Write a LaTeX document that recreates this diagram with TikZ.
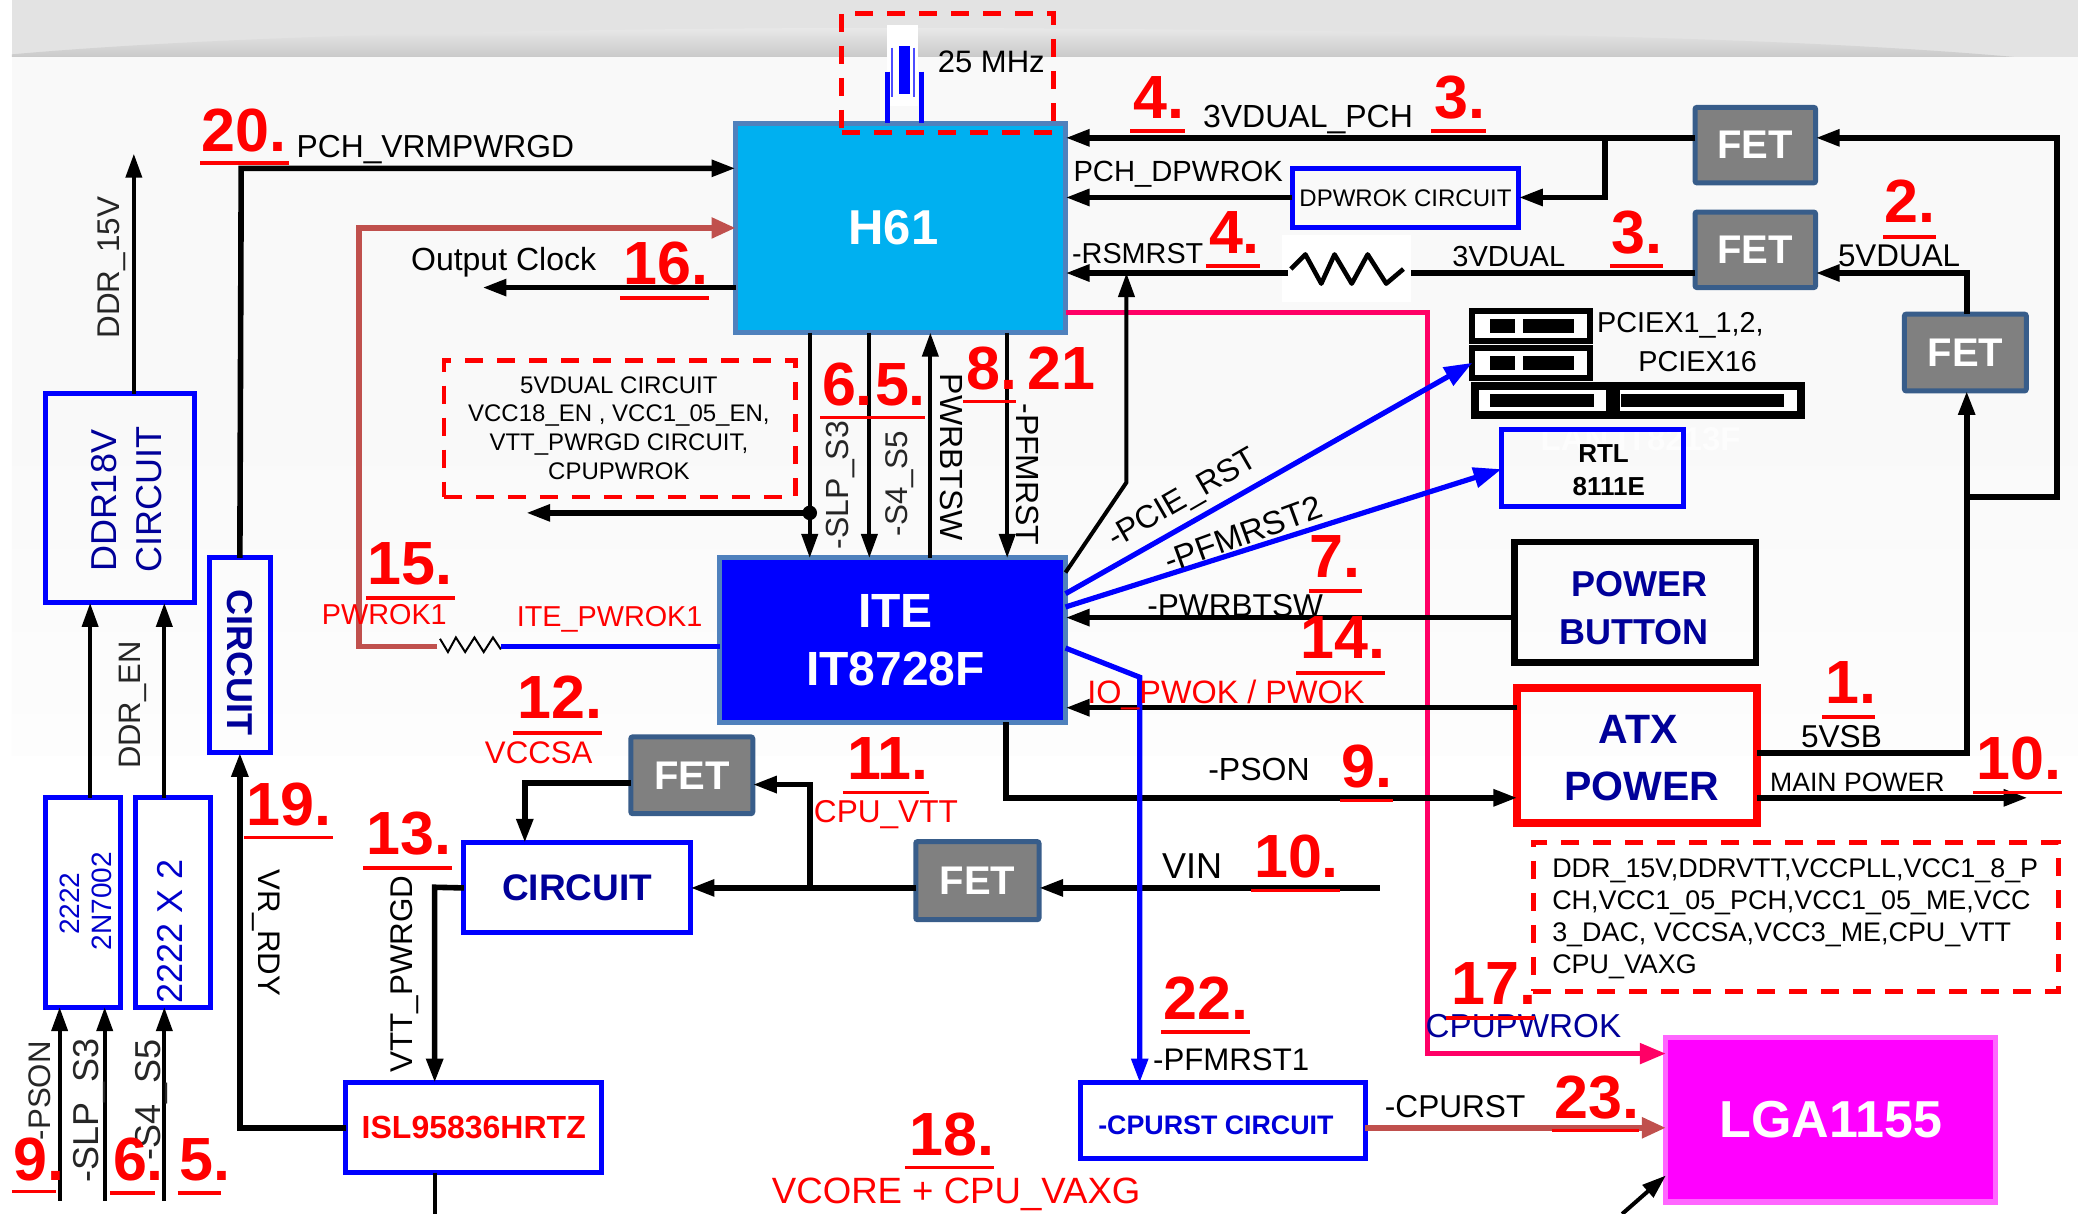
\documentclass[tikz,border=0pt]{standalone}
\usepackage{fontspec}
\setmainfont{Liberation Sans}
\usetikzlibrary{arrows.meta}
\def\un{0.66263}
\definecolor{h61blue}{HTML}{00B0F0}
\definecolor{edgeblue}{HTML}{4F81BD}
\definecolor{fetedge}{HTML}{385D8A}
\definecolor{navyt}{HTML}{000099}
\definecolor{brownr}{HTML}{C0504D}
\definecolor{pinkr}{HTML}{FF0066}
\definecolor{lgafill}{HTML}{FF00FF}
\definecolor{lgaedge}{HTML}{FF66FF}
\definecolor{bga}{HTML}{F9F9F9}
\definecolor{bgb}{HTML}{FDFDFD}
\definecolor{ghost}{HTML}{FDFDFD}
\tikzset{
  fs/.style={font=\fontsize{#1}{#1}\selectfont},
  lab/.style={inner sep=0pt,anchor=base,text=black},
  rlab/.style={lab,text=red},
  glab/.style={lab,text=black!85},
  rnum/.style={inner sep=0pt,anchor=base west,text=red,font=\fontsize{30.5}{32}\selectfont\bfseries},
  runder/.style={draw=red,line width=1.9pt},
  bx/.style={inner sep=0pt,outer sep=0pt,align=center},
  blueb/.style={bx,draw=blue,line width=2.5pt},
  fetb/.style={bx,draw=fetedge,fill=gray,line width=2.5pt,rounded corners=1pt,text=white,font=\fontsize{20}{24}\selectfont\bfseries},
  dashb/.style={draw=red,line width=2.4pt,dash pattern=on 9pt off 7pt},
  tip/.style={-{Triangle[length=12pt,width=8pt]}},
  wire/.style={draw=black,line width=2pt},
  wthick/.style={draw=black,line width=2.8pt},
  slotb/.style={bx,draw=black,fill=white,line width=3pt},
  slotbig/.style={bx,draw=black,fill=white,line width=4pt},
  barb/.style={bx,fill=black},
}
% name x1 y1 x2 y2 style text
\newcommand\BX[7]{\node[#6,minimum width={(#4-(#2))*\un*1pt},minimum height={(#5-(#3))*\un*1pt}] (#1) at ({(#2+#4)/2},{(#3+#5)/2}) {#7};}
% name x y text ux1 ux2 uy
\newcommand\RN[7]{\node[rnum] (#1) at (#2,#3) {#4}; \draw[runder] (#5,#7) -- (#6,#7);}
\begin{document}
\begin{tikzpicture}[x=\un pt,y=-\un pt,line join=miter]
\useasboundingbox (0,0) rectangle (1568,916);
% background
\fill[white] (0,0) rectangle (1568,916);
\fill[bga] (9,43) rectangle (1568,320);
\shade[top color=bga,bottom color=bgb] (9,320) rectangle (1568,570);
\fill[black!11] (9,0) rectangle (1568,43);
\shade[top color=black!9,bottom color=black!21] (9,43) -- (9,41) .. controls (200,24) and (500,21) .. (700,21) .. controls (1100,23) and (1350,28) .. (1520,43) -- cycle;
\node[inner sep=0pt,text=ghost,font=\fontsize{16.5}{20}\selectfont\bfseries] (langhost) at (1238,331) {LAN  IT8213F};

% main boxes
\BX{h61}{555}{93}{804}{251}{bx,draw=edgeblue,fill=h61blue,line width=2.5pt,text=white,font=\fontsize{24.5}{28}\selectfont\bfseries}{H61\hspace{7pt}}
\BX{ite}{543}{421}{804}{545}{bx,draw=edgeblue,fill=blue,line width=2.5pt,text=white,font=\fontsize{24}{29}\selectfont\bfseries}{\hspace{3pt}ITE\\[0pt]\hspace{3pt}IT8728F}
\BX{ddrc}{34}{297}{147}{455}{blueb}{}
\BX{vrc}{158}{421}{204}{568}{blueb}{}
\BX{q1}{34}{602}{91}{760}{blueb}{}
\BX{q2}{102}{602}{159}{760}{blueb}{}
\BX{fet1}{1279}{81}{1370}{138}{fetb}{FET}
\BX{fet2}{1279}{160}{1370}{217}{fetb}{FET}
\BX{fet3}{1437}{237}{1529}{295}{fetb}{FET}
\BX{fet4}{476}{556}{568}{614}{fetb}{FET}
\BX{fet5}{691}{635}{784}{694}{fetb}{FET}
\BX{circ}{350}{636}{521}{704}{blueb,text=navyt,font=\fontsize{18.5}{22}\selectfont\bfseries}{CIRCUIT}
\BX{isl}{261}{817}{454}{885}{blueb,text=red,font=\fontsize{16}{20}\selectfont\bfseries}{ISL95836HRTZ}
\BX{dpw}{975}{127}{1146}{172}{blueb,font=\fontsize{12}{15}\selectfont}{DPWROK CIRCUIT}
\BX{rtl}{1133}{324}{1270}{382}{blueb}{}
\BX{pwrb}{1143}{409}{1325}{500}{bx,draw=black,line width=3.3pt}{}
\BX{atx}{1145}{519}{1326}{621}{bx,draw=red,line width=4pt}{}
\BX{cpur}{815}{817}{1030}{874}{blueb}{}
\BX{lga}{1257}{783}{1506}{907}{bx,draw=lgaedge,fill=lgafill,line width=2.6pt,text=white,font=\fontsize{26}{30}\selectfont\bfseries}{LGA1155}

% texts of the boxes
\node[lab,rotate=90,text=navyt,fs=18] (tddr1) at (88,378) {DDR18V};
\node[lab,rotate=90,text=navyt,fs=18] (tddr2) at (122,377) {CIRCUIT};
\node[lab,rotate=-90,text=navyt,font=\fontsize{18}{20}\selectfont\bfseries] (tvrc) at (172,500) {CIRCUIT};
\node[lab,rotate=90,text=blue!80!black,fs=14] (tq1a) at (60,682) {2222};
\node[lab,rotate=90,text=blue!80!black,fs=14] (tq1b) at (84,680) {2N7002};
\node[lab,rotate=90,text=blue!80!black,fs=18] (tq2) at (138,703) {2222 X 2};
\node[lab,font=\fontsize{13}{15}\selectfont\bfseries] (trtla) at (1210,349) {RTL};
\node[lab,font=\fontsize{13}{15}\selectfont\bfseries] (trtlb) at (1214,374) {8111E};
\node[lab,text=navyt,font=\fontsize{18}{20}\selectfont\bfseries] (tpb1) at (1237,450) {POWER};
\node[lab,text=navyt,font=\fontsize{18}{20}\selectfont\bfseries] (tpb2) at (1233,486) {BUTTON};
\node[lab,text=navyt,font=\fontsize{20.5}{22}\selectfont\bfseries] (tatx1) at (1236,561) {ATX};
\node[lab,text=navyt,font=\fontsize{20.5}{22}\selectfont\bfseries] (tatx2) at (1239,604) {POWER};
\node[lab,text=blue!85!black,font=\fontsize{13.4}{16}\selectfont\bfseries] (tcpur) at (917.5,856) {-CPURST CIRCUIT};

% PCI slots
\BX{slot1}{1111}{234.5}{1200}{257}{slotb}{}
\BX{slot2}{1111}{262.5}{1200}{285}{slotb}{}
\BX{slot3}{1113}{291}{1215}{313}{slotbig}{}
\BX{slot4}{1219}{291}{1359}{313}{slotbig}{}
\BX{bar1a}{1124}{241}{1143}{251}{barb}{}
\BX{bar1b}{1149}{241}{1188}{251}{barb}{}
\BX{bar2a}{1124}{269}{1143}{279}{barb}{}
\BX{bar2b}{1149}{269}{1188}{279}{barb}{}
\BX{bar3}{1124}{297.5}{1203}{307}{barb}{}
\BX{bar4}{1223}{297.5}{1346}{307}{barb}{}

% crystal
\BX{xtalbg}{669}{19}{693}{80}{bx,fill=white}{}
\BX{xtal}{678}{35}{687}{71}{bx,fill=blue}{}
\draw[blue!70,line width=1pt] (673,36) -- (673,73) (690,36) -- (690,73);
\draw[blue,line width=2.5pt] (669.5,54) -- (h61.north -| 669.5,0) (695,54) -- (h61.north -| 695,0);

% pink
\draw[draw=pinkr,line width=2.6pt,-{Triangle[length=13pt,width=10pt]}] (h61.east |- 0,236) -- (1077,236) -- (1077,795) -- (lga.west |- 0,795);

% dashed boxes
\BX{dcr}{635}{10}{795}{100}{bx,dashb}{}
\BX{d5v}{335}{272}{600}{375}{bx,dashb}{}
\BX{dpw2}{1157}{636}{1553}{748}{bx,dashb}{}
\node[lab,fs=15.5] (t25) at (748,55) {25 MHz};
\node[inner sep=0pt,align=center,font=\fontsize{12}{14.4}\selectfont] (t5v) at (467,323) {5VDUAL CIRCUIT\\VCC18\_EN , VCC1\_05\_EN,\\VTT\_PWRGD CIRCUIT,\\CPUPWROK};
\node[inner sep=0pt,align=left,anchor=north west,font=\fontsize{13.45}{15.9}\selectfont] (tdp) at (1171,648) {DDR\_15V,DDRVTT,VCCPLL,VCC1\_8\_P\\CH,VCC1\_05\_PCH,VCC1\_05\_ME,VCC\\3\_DAC, VCCSA,VCC3\_ME,CPU\_VTT\\CPU\_VAXG};

% black connectors
\draw[wire,tip] (ddrc.north -| 101,0) -- (101,116);
\draw[wthick,tip] (vrc.north) -- (182,127) -- (h61.west |- 0,127);
\draw[wthick,tip] (isl.west) -- (181,851) -- (vrc.south -| 181,0);
\draw[wthick,tip] (circ.west) -- (328,669.5) -- (isl.north -| 328,0);
\draw[wire] (isl.south -| 328,0) -- (328,916);
\draw[wthick,tip] (h61.west |- 0,217) -- (364,217);
\draw[wire,tip] (h61.south -| 611,0) -- (ite.north -| 611,0);
\fill (611,387) ellipse (5.5 and 5.5);
\draw[wthick,tip] (611,387) -- (397,387);
\draw[wire,tip] (h61.south -| 656,0) -- (ite.north -| 656,0);
\draw[wire,tip] (ite.north -| 702,0) -- (h61.south -| 702,0);
\draw[wire,tip] (h61.south -| 760,0) -- (ite.north -| 760,0);
\draw[wthick,tip] (fet1.west |- 0,104) -- (h61.east |- 0,104);
\draw[wthick,tip] (1211,104) -- (1211,149) -- (dpw.east |- 0,149);
\draw[wthick,tip] (dpw.west |- 0,149) -- (h61.east |- 0,149);
\draw[wthick] (fet2.west |- 0,206) -- (1062,206);
\BX{resbg}{967}{177}{1065}{228}{bx,fill=white}{}
\draw[wthick] (972,206) -- (resbg.west |- 0,206);
\draw[wthick,tip] (resbg.west |- 0,206) -- (h61.east |- 0,206);
\draw[line width=2.3pt,line join=round] (974,203) -- (985,192) -- (997,214) -- (1007,192) -- (1020,214) -- (1032,192) -- (1046,214) -- (1059,203);
\draw[wire,tip] (ite.east |- 0,432) -- (850,364) -- (850,206);
\draw[wthick,tip] (fet3.north -| 1484,0) -- (1484,206) -- (fet2.east |- 0,206);
\draw[wthick,tip] (1484,375) -- (1552,375) -- (1552,104) -- (fet1.east |- 0,104);
\draw[wthick,tip] (atx.east |- 0,568) -- (1484,568) -- (fet3.south -| 1484,0);
\draw[wthick,tip] (atx.east |- 0,602) -- (1530,602);
\draw[wthick,tip] (pwrb.west |- 0,466) -- (ite.east |- 0,466);
\draw[wthick,tip] (atx.west |- 0,534) -- (ite.east |- 0,534);
\draw[wthick,tip] (ite.south -| 759,0) -- (759,602) -- (atx.west |- 0,602);
\draw[wthick,tip] (1041,670) -- (fet5.east |- 0,670);
\draw[wthick,tip] (fet5.west |- 0,670) -- (circ.east |- 0,670);
\draw[wthick,tip] (611,670) -- (611,592) -- (fet4.east |- 0,592);
\draw[wthick,tip] (fet4.west |- 0,591) -- (396,591) -- (circ.north -| 396,0);
\draw[wire,tip] (q1.north -| 68,0) -- (ddrc.south -| 68,0);
\draw[wire,tip] (q2.north -| 124,0) -- (ddrc.south -| 124,0);
\coordinate (in1) at (45,906); \coordinate (in2) at (79,906); \coordinate (in3) at (124,906);
\draw[wire,tip] (in1) -- (q1.south -| in1);
\draw[wire,tip] (in2) -- (q1.south -| in2);
\draw[wire,tip] (in3) -- (q2.south -| in3);
\coordinate (lgain) at (1224,916);
\draw[wire,tip] (lgain) -- (lga.west |- 0,887);

% brown and the PWROK1 branch
\coordinate (r1a) at (330,488); \coordinate (r1b) at (378,488);
\draw[draw=brownr,line width=2.7pt,-{Triangle[length=12pt,width=10pt]}] (r1a) -- (271,488) -- (271,172) -- (h61.west |- 0,172);
\draw[line width=1pt] (332,482) -- (338,492) -- (344,481) -- (351,492) -- (358,481) -- (365,492) -- (372,481) -- (378,490);
\draw[draw=blue,line width=2.6pt] (r1b) -- (ite.west |- r1b);
\draw[draw=brownr,line width=2.8pt,-{Triangle[length=12pt,width=10pt]}] (cpur.east |- 0,851) -- (lga.west |- 0,851);

% blue connectors
\draw[draw=blue,line width=2.6pt,-{Triangle[length=14pt,width=10pt]}] (ite.east |- 0,448) -- (slot2.west);
\draw[draw=blue,line width=2.6pt,-{Triangle[length=14pt,width=10pt]}] (ite.east |- 0,458) -- (rtl.west |- 0,354);
\draw[draw=blue,line width=2.6pt,-{Triangle[length=12pt,width=8pt]}] (ite.east |- 0,489) -- (860,511) -- (cpur.north -| 860,0);

% labels
\node[lab,fs=15.9] (lpch) at (328.5,119) {PCH\_VRMPWRGD};
\node[lab,fs=16] (loc) at (380,204) {Output Clock};
\node[lab,fs=16] (l3vp) at (987,96) {3VDUAL\_PCH};
\node[lab,fs=14.6] (ldp) at (889,137) {PCH\_DPWROK};
\node[lab,fs=14.4] (lrs) at (858.5,199) {-RSMRST};
\node[lab,fs=14.5] (l3v) at (1138.5,201) {3VDUAL};
\node[lab,fs=15.7] (l5v) at (1433,201) {5VDUAL};
\node[lab,fs=14.4] (lpx1) at (1268,251) {PCIEX1\_1,2,};
\node[lab,fs=14.4] (lpx2) at (1281,280) {PCIEX16};
\node[lab,fs=15.8] (lpb) at (932,465) {-PWRBTSW};
\node[rlab,fs=16.2] (liop) at (925,531) {IO\_PWOK / PWOK};
\node[lab,fs=16] (lps) at (950,589) {-PSON};
\node[lab,fs=18] (lvin) at (899.5,663) {VIN};
\node[lab,fs=15.8] (l5vsb) at (1389.5,564) {5VSB};
\node[lab,fs=13.3] (lmain) at (1401.5,597) {MAIN POWER};
\node[lab,fs=15.8] (lcr) at (1098,843) {-CPURST};
\node[lab,fs=15.6] (lpf1) at (929,808) {-PFMRST1};
\node[lab,text=navyt,fs=16.6] (lcw) at (1149.5,783) {CPUPWROK};
\node[rlab,fs=14.4] (lpw) at (290,471) {PWROK1};
\node[rlab,fs=14.4] (lip) at (460,473) {ITE\_PWROK1};
\node[rlab,fs=15.6] (lsa) at (406.5,576) {VCCSA};
\node[rlab,fs=15.8] (lvtt) at (668.5,621) {CPU\_VTT};
\node[rlab,fs=18.3] (lvc) at (721.5,908) {VCORE + CPU\_VAXG};
\node[glab,rotate=90,fs=15.7] (r1) at (90,202) {DDR\_15V};
\node[glab,rotate=90,fs=15.5] (r2) at (106,532) {DDR\_EN};
\node[lab,rotate=90,fs=15.7] (r3) at (311,735) {VTT\_PWRGD};
\node[lab,rotate=-90,fs=15.6] (r4) at (195,704) {VR\_RDY};
\node[glab,rotate=90,fs=15.6] (r5) at (38,823) {-PSON};
\node[glab,rotate=90,fs=18] (r6) at (74,838) {-SLP\_S3};
\node[glab,rotate=90,fs=18] (r7) at (121,830) {-S4\_S5};
\node[glab,rotate=90,fs=16] (r8) at (640,366) {-SLP\_S3};
\node[glab,rotate=90,fs=15.7] (r9) at (685,365) {-S4\_S5};
\node[lab,rotate=-90,fs=16] (r10) at (710,345) {PWRBTSW};
\node[lab,rotate=-90,fs=16] (r11) at (767,358) {-PFMRST};
\node[inner sep=0pt,rotate=30,fs=16] (r12) at (893,377) {-PCIE\_RST};
\node[inner sep=0pt,rotate=20,fs=16.5] (r13) at (938,403) {-PFMRST2};

% red numbers
\RN{n20}{152}{114}{20.}{151}{218}{122.7}
\RN{n16}{470}{215}{16.}{468}{535}{225}
\RN{n6a}{620}{306}{6.}{619}{698}{315}
\RN{n5a}{660}{306}{5.}{660}{660}{315}
\RN{n8}{729}{294}{8.}{727}{767}{303}
\node[rnum] (n21) at (775,294) {21};
\RN{n15}{277}{441}{15.}{276}{343}{451}
\RN{n4a}{855}{89.5}{4.}{853}{894}{99}
\RN{n3a}{1082}{89.5}{3.}{1080}{1121}{99}
\RN{n2}{1422}{168}{2.}{1421}{1461}{179}
\RN{n4b}{912}{191.5}{4.}{910}{951}{201}
\RN{n3b}{1216}{191.5}{3.}{1215}{1255}{201}
\RN{n7}{988}{435.5}{7.}{988}{1028}{446}
\RN{n12}{390}{542}{12.}{387}{454}{553}
\RN{n11}{639}{588}{11.}{636}{701}{598}
\RN{n19}{186}{622.6}{19.}{184}{251}{632}
\RN{n13}{276}{645}{13.}{274}{341}{655}
\RN{n9a}{10}{890.6}{9.}{9}{42}{899}
\RN{n6b}{85}{890.6}{6.}{83}{117}{900}
\RN{n5b}{135}{890.6}{5.}{134}{167}{900}
\RN{n18}{686}{871.7}{18.}{683}{750}{881}
\RN{n14}{981}{497}{14.}{978}{1045}{507.7}
\RN{n1}{1377}{531}{1.}{1375}{1415}{541}
\RN{n10a}{1491}{588}{10.}{1489}{1556}{598}
\RN{n9b}{1012}{594.5}{9.}{1011}{1051}{604}
\RN{n10b}{946}{662}{10.}{944}{1011}{672}
\RN{n17}{1095}{757.7}{17.}{1091}{1158}{768}
\RN{n22}{878}{769.5}{22.}{876}{943}{779}
\RN{n23}{1173}{843.7}{23.}{1171}{1237}{853}
\end{tikzpicture}
\end{document}
